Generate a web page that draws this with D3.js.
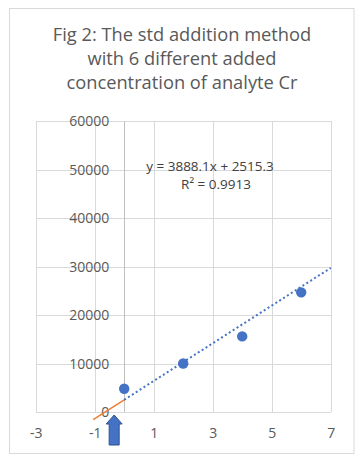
<!DOCTYPE html>
<meta charset="utf-8">
<head>
<style>
body { margin: 0; background: #fff; font-family: "Open Sans", sans-serif; }
.grid line { stroke: #d9d9d9; stroke-width: 1px; shape-rendering: crispEdges; }
.axis text { fill: #595959; font-size: 14px; }
.title { fill: #595959; font-size: 18.3px; }
.eq { fill: #404040; font-size: 13.5px; }
</style>
<script src="https://d3js.org/d3.v7.min.js"></script>
</head>
<body>
<div id="chart"></div>
<script>

// data
var addedConc = [0, 2, 4, 6];
var signal = [4800, 10000, 15600, 24700];
var xTicks = [-3, -1, 1, 3, 5, 7];
var yTicks = [0, 10000, 20000, 30000, 40000, 50000, 60000];
var titleLines = ["Fig 2: The std addition method", "with 6 different added", "concentration of analyte Cr"];
var slope = 3888.1, intercept = 2515.3, rSquared = 0.9913;
var trendRange = [0, 7];
var extrapRange = [-1.05, 0];
var arrowX = -0.34;

var W = 364, H = 461;
var svg = d3.select("#chart").append("svg")
  .attr("width", W).attr("height", H);

// outer chart border
svg.append("rect")
  .attr("x", 9.5).attr("y", 8.5)
  .attr("width", 344.5).attr("height", 445)
  .attr("fill", "none").attr("stroke", "#d9d9d9");

var x = d3.scaleLinear().domain([-3, 7]).range([35.7, 330.7]);
var y = d3.scaleLinear().domain([0, 60000]).range([412, 121.3]);

////title
svg.selectAll(".title")
  .data(titleLines)
  .enter().append("text")
    .attr("class", "title")
    .attr("x", 182)
    .attr("y", function(d, i) { return 41 + i * 24; })
    .attr("text-anchor", "middle")
    .text(function(d) { return d; });

////gridlines
var grid = svg.append("g").attr("class", "grid");
grid.selectAll(".h")
  .data(yTicks)
  .enter().append("line")
    .attr("x1", x(-3)).attr("x2", x(7))
    .attr("y1", function(d) { return Math.round(y(d)) + 0.5; })
    .attr("y2", function(d) { return Math.round(y(d)) + 0.5; });
grid.selectAll(".v")
  .data(xTicks)
  .enter().append("line")
    .attr("y1", y(0)).attr("y2", y(60000))
    .attr("x1", function(d) { return Math.round(x(d)) + 0.5; })
    .attr("x2", function(d) { return Math.round(x(d)) + 0.5; });

// vertical axis at x = 0
svg.append("line")
  .attr("x1", Math.round(x(0)) + 0.5).attr("x2", Math.round(x(0)) + 0.5)
  .attr("y1", y(0)).attr("y2", y(60000))
  .attr("stroke", "#bfbfbf");

////axes labels
var plain = function(d) { return String(d); };
var yAxis = svg.append("g")
  .attr("class", "axis")
  .attr("transform", "translate(" + x(0) + ",0)")
  .call(d3.axisLeft(y).tickValues(yTicks).tickFormat(plain).tickSize(0).tickPadding(15));
yAxis.select(".domain").remove();

var xAxis = svg.append("g")
  .attr("class", "axis")
  .attr("transform", "translate(0," + y(0) + ")")
  .call(d3.axisBottom(x).tickValues(xTicks).tickFormat(plain).tickSize(0).tickPadding(16));
xAxis.select(".domain").remove();
svg.selectAll(".axis").attr("font-family", null).attr("font-size", null);

////trendline (dotted) and extrapolation (orange)
var line = d3.line()
  .x(function(d) { return x(d); })
  .y(function(d) { return y(slope * d + intercept); });

svg.append("path")
  .attr("d", line(trendRange))
  .attr("fill", "none")
  .attr("stroke", "#4472c4")
  .attr("stroke-width", 2)
  .attr("stroke-dasharray", "2,2.6");

svg.append("path")
  .attr("d", line(extrapRange))
  .attr("fill", "none")
  .attr("stroke", "#ed7d31")
  .attr("stroke-width", 1.5);

////points
svg.selectAll(".dot")
  .data(addedConc)
  .enter().append("circle")
    .attr("cx", function(d) { return x(d); })
    .attr("cy", function(d, i) { return y(signal[i]); })
    .attr("r", 5.2)
    .attr("fill", "#4472c4");

////equation
svg.append("text")
  .attr("class", "eq")
  .attr("x", 210).attr("y", 171)
  .attr("text-anchor", "middle")
  .text("y = " + slope + "x + " + intercept);
svg.append("text")
  .attr("class", "eq")
  .attr("x", 216).attr("y", 189)
  .attr("text-anchor", "middle")
  .text("R² = " + rSquared);

////up arrow
var ax = x(arrowX), arrTop = y(0) + 3, arrBot = y(0) + 33;
svg.append("path")
  .attr("d", "M" + ax + "," + arrTop +
    "L" + (ax + 8) + "," + (arrTop + 9) +
    "L" + (ax + 5) + "," + (arrTop + 9) +
    "L" + (ax + 5) + "," + arrBot +
    "L" + (ax - 5) + "," + arrBot +
    "L" + (ax - 5) + "," + (arrTop + 9) +
    "L" + (ax - 8) + "," + (arrTop + 9) + "Z")
  .attr("fill", "#4472c4")
  .attr("stroke", "#2f528f")
  .attr("stroke-width", 1);

</script>
</body>
</html>
